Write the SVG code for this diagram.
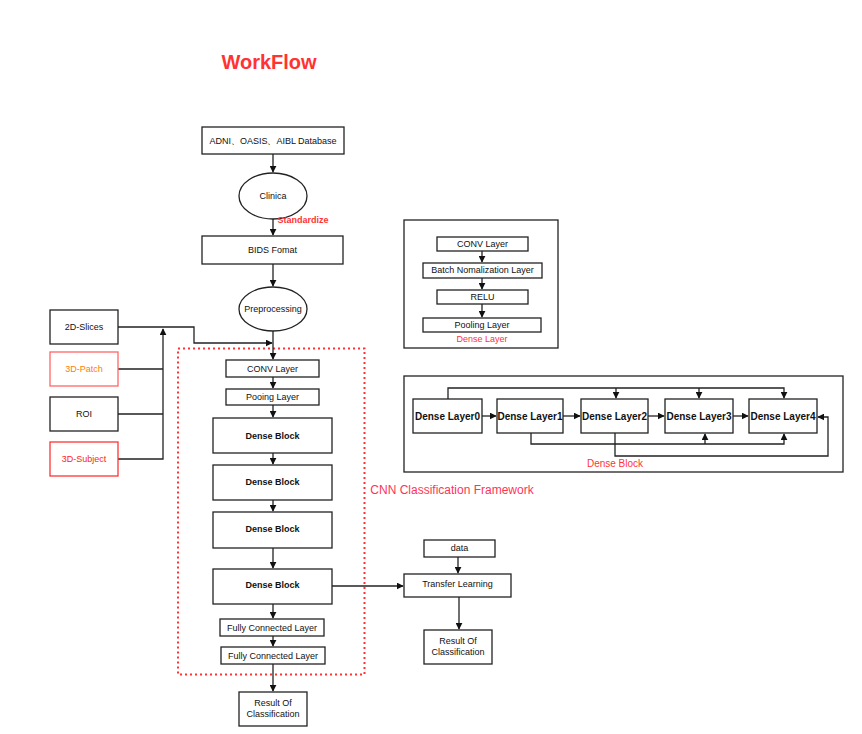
<svg xmlns="http://www.w3.org/2000/svg" width="862" height="734" viewBox="0 0 862 734">
<style>
.n{fill:#fff;stroke:#222;stroke-width:1.3}
.p{fill:none;stroke:#222;stroke-width:1.3}
.t{font-family:"Liberation Sans",Arial,sans-serif;font-size:9px;fill:#111;text-anchor:middle;dominant-baseline:central}
.b{font-weight:bold}
.c{fill:none;stroke:#222;stroke-width:1.3}
.r{fill:#ff3333}
</style>
<defs>
<marker id="a" viewBox="0 0 10 10" refX="9" refY="5" markerWidth="7" markerHeight="7" markerUnits="userSpaceOnUse" orient="auto"><path d="M0,0 L10,5 L0,10 Z" fill="#111"/></marker>
</defs>
<rect width="862" height="734" fill="#fff"/>
<text x="269" y="62" class="t b" style="font-size:20px;fill:#ff3333">WorkFlow</text>

<g id="frame">
<rect x="178" y="348.5" width="186.5" height="326" fill="none" stroke="#ff3333" stroke-width="2" stroke-dasharray="2,3"/>
<text x="452" y="490" class="t" style="font-size:12px;fill:#ff3355">CNN Classification Framework</text>
</g>

<g id="denselayer">
<rect class="p" x="404" y="220" width="154" height="128"/>
<text class="t" x="482" y="339" style="fill:#ff3333">Dense Layer</text>
</g>
<g id="denseblock">
<rect class="p" x="404" y="376" width="439" height="96"/>
<text class="t" x="615" y="463.5" style="font-size:10px;fill:#ff3333">Dense Block</text>
</g>

<g id="connectors">
<path class="c" d="M273,154 V172" marker-end="url(#a)"/>
<path class="c" d="M273,219 V235" marker-end="url(#a)"/>
<path class="c" d="M273,264 V286" marker-end="url(#a)"/>
<path class="c" d="M273,331 V359" marker-end="url(#a)"/>
<path class="c" d="M118,327 H194 V343 H272" marker-end="url(#a)"/>
<path class="c" d="M118,369 H163 M118,414 H163 M118,459 H163 V329" marker-end="url(#a)"/>
<path class="c" d="M273,377 V388" marker-end="url(#a)"/>
<path class="c" d="M273,405 V417" marker-end="url(#a)"/>
<path class="c" d="M273,453 V464" marker-end="url(#a)"/>
<path class="c" d="M273,500 V511" marker-end="url(#a)"/>
<path class="c" d="M273,548 V568" marker-end="url(#a)"/>
<path class="c" d="M273,604 V618" marker-end="url(#a)"/>
<path class="c" d="M273,636 V646" marker-end="url(#a)"/>
<path class="c" d="M273,664 V691" marker-end="url(#a)"/>
<path class="c" d="M332,586 H403" marker-end="url(#a)"/>
<path class="c" d="M458,557 V573" marker-end="url(#a)"/>
<path class="c" d="M459,597 V629" marker-end="url(#a)"/>
<path class="c" d="M482,251 V262" marker-end="url(#a)"/>
<path class="c" d="M482,278 V289" marker-end="url(#a)"/>
<path class="c" d="M482,304 V317" marker-end="url(#a)"/>
<path class="c" d="M482,416 H496" marker-end="url(#a)"/>
<path class="c" d="M563,416 H580" marker-end="url(#a)"/>
<path class="c" d="M648,416 H664" marker-end="url(#a)"/>
<path class="c" d="M733,416 H748" marker-end="url(#a)"/>
<path class="c" d="M448,399 V388 H784 V398" marker-end="url(#a)"/>
<path class="c" d="M616,388 V398" marker-end="url(#a)"/>
<path class="c" d="M699,388 V398" marker-end="url(#a)"/>
<path class="c" d="M531,433 V444 H784 V434" marker-end="url(#a)"/>
<path class="c" d="M705,444 V434" marker-end="url(#a)"/>
<path class="c" d="M615,433 V456 H828 V417 H818" marker-end="url(#a)"/>
</g>

<g id="adni"><rect class="n" x="202" y="127" width="142" height="27"/><text class="t" x="273" y="140.5">ADNI、OASIS、AIBL Database</text></g>
<g id="clinica"><ellipse class="n" cx="273" cy="196" rx="34" ry="23"/><text class="t" x="273" y="196">Clinica</text></g>
<text class="t b r" x="303" y="219.5">Standardize</text>
<g id="bids"><rect class="n" x="202" y="236" width="141" height="28"/><text class="t" x="272.5" y="250">BIDS Fomat</text></g>
<g id="pre"><ellipse class="n" cx="273" cy="309" rx="34" ry="22"/><text class="t" x="273" y="309">Preprocessing</text></g>

<g id="slices"><rect class="n" x="50" y="310" width="68" height="34"/><text class="t" x="84" y="327">2D-Slices</text></g>
<g id="patch"><rect x="50" y="352" width="68" height="34" fill="#fff" stroke="#ff6666" stroke-width="1.3"/><text class="t" x="84" y="369" style="fill:#ff8000">3D-Patch</text></g>
<g id="roi"><rect class="n" x="50" y="397" width="68" height="34"/><text class="t" x="84" y="414">ROI</text></g>
<g id="subject"><rect x="50" y="442" width="68" height="34" fill="#fff" stroke="#ff3333" stroke-width="1.3"/><text class="t" x="84" y="459" style="fill:#ff2222">3D-Subject</text></g>

<g id="conv"><rect class="n" x="226" y="360" width="93" height="17"/><text class="t" x="272.5" y="368.5">CONV Layer</text></g>
<g id="pool"><rect class="n" x="226" y="389" width="93" height="16"/><text class="t" x="272.5" y="397">Pooing Layer</text></g>
<g id="db1"><rect class="n" x="213" y="418" width="119" height="35"/><text class="t b" x="272.5" y="435.5">Dense Block</text></g>
<g id="db2"><rect class="n" x="213" y="465" width="119" height="35"/><text class="t b" x="272.5" y="482">Dense Block</text></g>
<g id="db3"><rect class="n" x="213" y="512" width="119" height="36"/><text class="t b" x="272.5" y="529">Dense Block</text></g>
<g id="db4"><rect class="n" x="213" y="569" width="119" height="35"/><text class="t b" x="272.5" y="585">Dense Block</text></g>
<g id="fc1"><rect class="n" x="220" y="619" width="104" height="17"/><text class="t" x="272" y="627.5">Fully Connected Layer</text></g>
<g id="fc2"><rect class="n" x="221" y="647" width="104" height="17"/><text class="t" x="273" y="655.5">Fully Connected Layer</text></g>
<g id="res1"><rect class="n" x="239" y="692" width="68" height="34"/><text class="t" x="273" y="703">Result Of</text><text class="t" x="273" y="714">Classification</text></g>

<g id="data"><rect class="n" x="424" y="540" width="71" height="17"/><text class="t" x="459.5" y="548">data</text></g>
<g id="tl"><rect class="n" x="404" y="574" width="107" height="23"/><text class="t" x="457.5" y="584">Transfer Learning</text></g>
<g id="res2"><rect class="n" x="424" y="630" width="68" height="34"/><text class="t" x="458" y="641">Result Of</text><text class="t" x="458" y="652">Classification</text></g>

<g id="conv2"><rect class="n" x="437" y="237" width="91" height="14"/><text class="t" x="482.5" y="244">CONV  Layer</text></g>
<g id="bn"><rect class="n" x="423" y="263" width="119" height="15"/><text class="t" x="482.5" y="270">Batch Nomalization Layer</text></g>
<g id="relu"><rect class="n" x="437" y="290" width="91" height="14"/><text class="t" x="482.5" y="297">RELU</text></g>
<g id="pool2"><rect class="n" x="423" y="318" width="118" height="14"/><text class="t" x="482" y="325">Pooling Layer</text></g>

<g id="dl0"><rect class="n" x="413" y="399" width="69" height="34"/><text class="t b" x="447.5" y="416" style="font-size:10px">Dense Layer0</text></g>
<g id="dl1"><rect class="n" x="497" y="399" width="66" height="34"/><text class="t b" x="530" y="416" style="font-size:10px">Dense Layer1</text></g>
<g id="dl2"><rect class="n" x="581" y="399" width="67" height="34"/><text class="t b" x="614.5" y="416" style="font-size:10px">Dense Layer2</text></g>
<g id="dl3"><rect class="n" x="665" y="399" width="68" height="34"/><text class="t b" x="699" y="416" style="font-size:10px">Dense Layer3</text></g>
<g id="dl4"><rect class="n" x="749" y="399" width="68" height="34"/><text class="t b" x="783" y="416" style="font-size:10px">Dense Layer4</text></g>
</svg>
